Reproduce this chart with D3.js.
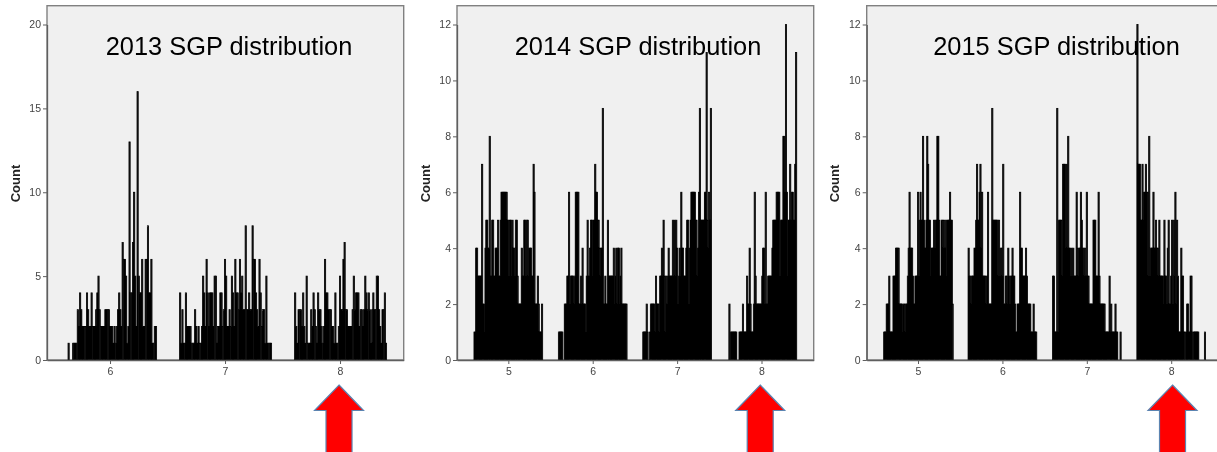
<!DOCTYPE html>
<html>
<head>
<meta charset="utf-8">
<script src="https://cdn.jsdelivr.net/npm/d3@7"></script>
<style>
  body { margin: 0; background: #fff; }
  svg { display: block; font-family: "Liberation Sans", Arial, sans-serif; }
</style>
</head>
<body>
<svg id="root" width="1217" height="452"></svg>
<script>
// counts per 0.01 SGP bin, first bin sits at category - 0.40
const y2013_6 = [0,0,0,0,1,0,0,0,1,1,1,1,3,2,4,3,2,2,2,2,4,3,2,2,4,2,2,2,3,4,5,3,2,2,2,2,3,3,3,3,2,2,2,1,2,1,2,3,4,3,2,7,6,6,5,1,2,13,4,4,7,10,5,2,16,5,4,4,6,2,2,6,6,8,4,4,6,1,1,2,2]
const y2013_7 = [0,4,1,3,1,1,4,2,2,2,2,1,1,1,3,2,1,2,1,1,2,5,4,2,6,4,2,4,4,4,2,5,5,1,2,2,4,4,2,3,6,5,2,2,3,2,5,4,2,6,4,4,3,6,4,5,3,3,8,3,3,4,3,3,8,6,6,4,3,2,6,4,2,3,3,1,5,1,1,1,1]
const y2013_8 = [0,4,2,1,3,3,3,2,4,2,1,5,1,1,1,3,2,4,3,2,1,4,3,3,2,1,2,6,4,4,3,3,3,2,2,1,4,1,1,2,5,3,3,6,7,3,3,2,2,2,2,3,5,3,4,4,4,2,3,3,2,3,5,4,3,4,3,1,3,4,3,3,5,5,3,2,1,3,3,4,1]

const y2014_5 = [1,1,4,4,3,3,3,3,3,7,2,2,1,4,5,5,4,4,8,3,3,5,5,3,3,4,4,4,5,3,3,5,6,6,6,6,6,6,6,5,5,3,5,5,3,5,4,4,3,5,5,3,2,2,2,2,4,3,3,5,5,3,5,5,3,4,4,4,3,3,7,6,2,2,2,3,2,1,1,1,2]
const y2014_6 = [1,1,1,1,1,0,0,2,2,2,3,3,6,2,3,3,3,3,2,3,6,6,6,6,2,2,3,2,4,2,2,2,1,3,5,3,3,4,5,5,3,5,5,7,6,6,5,5,4,3,4,4,9,2,2,3,2,2,5,3,3,3,3,3,3,4,2,3,4,2,4,4,2,3,4,2,2,2,2,2,2]
const y2014_7 = [1,1,1,1,2,1,0,0,1,2,2,2,2,2,1,3,2,2,2,1,3,3,4,3,5,3,1,3,2,3,4,3,3,3,3,5,3,5,3,5,4,2,3,4,3,6,4,4,3,3,3,4,5,5,2,4,5,6,6,6,6,6,5,5,3,4,6,9,5,5,5,5,5,6,6,11,5,4,6,5,9]
const y2014_8 = [0,0,2,0,1,1,1,1,1,1,1,0,0,0,1,1,1,1,2,1,1,1,1,3,2,2,4,2,1,1,1,2,6,3,2,2,2,2,2,2,2,3,4,4,2,6,2,2,3,3,3,3,3,4,5,5,5,5,6,6,6,6,3,5,5,5,8,8,6,12,6,3,5,5,7,5,6,6,5,5,7,11]

const y2015_5 = [1,1,1,2,2,2,3,1,1,1,1,3,3,3,4,4,4,4,2,2,2,2,1,2,2,1,2,2,3,4,6,4,4,4,3,2,2,3,3,3,6,3,5,6,5,5,8,5,4,4,5,8,7,5,5,3,4,4,4,5,4,5,5,8,8,5,3,3,5,5,4,5,4,5,3,5,5,5,6,5,5,2]
const y2015_6 = [4,3,3,2,3,3,3,4,4,5,7,5,5,6,7,4,6,3,3,3,3,2,3,6,2,2,2,2,9,5,5,5,5,5,5,3,5,3,4,4,3,7,2,2,3,3,2,4,3,2,3,3,4,3,3,2,1,1,2,2,2,6,4,4,3,3,3,3,4,3,2,2,2,2,1,1,1,2,1,1,1]
const y2015_7 = [3,3,1,1,1,9,1,5,5,5,5,3,7,7,7,4,7,4,8,4,4,3,4,3,4,3,3,3,6,4,3,4,4,6,5,4,4,3,4,3,6,3,3,2,2,2,2,2,5,5,5,3,3,3,6,3,2,2,2,2,2,2,1,1,1,1,1,3,1,2,1,1,1,1,2,1,1,0,0,0,1]
const y2015_8 = [12,7,7,7,5,5,7,5,6,6,7,6,6,3,8,3,4,4,4,6,4,4,5,4,4,3,5,3,3,3,3,2,5,3,3,2,4,5,2,2,3,5,2,5,3,6,2,5,3,1,1,1,4,3,3,1,1,0,1,2,2,1,1,3,3,1,0,1,1,1,1,1,1,0,0,0,0,0,0,0,1]

const panels = [
  { title: "2013 SGP distribution", groups: [[6, y2013_6], [7, y2013_7], [8, y2013_8]], left: 47, right: 403.7, xMin: 5.452, px: 115, yMax: 20, yStep: 5, titleX: 229, arrowDx: -1 },
  { title: "2014 SGP distribution", groups: [[5, y2014_5], [6, y2014_6], [7, y2014_7], [8, y2014_8]], left: 457, right: 813.7, xMin: 4.392, px: 84.4, yMax: 12, yStep: 2, titleX: 638, arrowDx: -1.3 },
  { title: "2015 SGP distribution", groups: [[5, y2015_5], [6, y2015_6], [7, y2015_7], [8, y2015_8]], left: 866.7, right: 1225, xMin: 4.392, px: 84.4, yMax: 12, yStep: 2, titleX: 1056.5, arrowDx: 1.3 }
]

const plotTop = 5.7, base = 360, topTick = 24.5;
const svg = d3.select("#root");

// the source is a soft, upscaled screenshot
svg.append("defs").append("filter")
  .attr("id", "soft")
  .attr("x", "-2%").attr("y", "-2%").attr("width", "104%").attr("height", "104%")
  .append("feGaussianBlur")
  .attr("stdDeviation", 0.4);

const drawPanel = (p) => {
  const g = svg.append("g").attr("filter", "url(#soft)");
  const x = d3.scaleLinear()
    .domain([p.xMin, p.xMin + (p.right - p.left) / p.px])
    .range([p.left, p.right]);
  const y = d3.scaleLinear().domain([0, p.yMax]).range([base, topTick]);

  // plot area
  g.append("rect")
    .attr("x", p.left).attr("y", plotTop)
    .attr("width", p.right - p.left).attr("height", base - plotTop)
    .attr("fill", "#f0f0f0")
    .attr("stroke", "#808080").attr("stroke-width", 1.4);

  // bars
  const bins = p.groups.flatMap(([cat, vals]) =>
    vals.map((v, i) => ({ pos: cat - 0.4 + i * 0.01, v })).filter(d => d.v > 0));
  g.append("g").selectAll("rect")
    .data(bins)
    .enter()
    .append("rect")
    .attr("x", d => x(d.pos) - 0.6)
    .attr("y", d => y(d.v))
    .attr("width", 1.2)
    .attr("height", d => base - y(d.v))
    .attr("fill", "#111")
    .attr("stroke", "#000")
    .attr("stroke-width", 0.8);

  // axes
  const yTicks = d3.range(0, p.yMax + 1, p.yStep);
  const yAxis = g.append("g")
    .attr("transform", `translate(${p.left},0)`)
    .call(d3.axisLeft(y).tickValues(yTicks).tickSize(4).tickSizeOuter(0).tickPadding(2).tickFormat(d3.format("d")));
  const xAxis = g.append("g")
    .attr("transform", `translate(0,${base})`)
    .call(d3.axisBottom(x).tickValues(p.groups.map(d => d[0])).tickSize(4).tickSizeOuter(0).tickPadding(3.5).tickFormat(d3.format("d")));
  [yAxis, xAxis].forEach(a => {
    a.select(".domain").attr("stroke", "#5f5f5f").attr("stroke-width", 1.3);
    a.selectAll("line").attr("stroke", "#5f5f5f");
    a.selectAll("text").attr("fill", "#444").attr("font-size", 10.5)
      .attr("font-family", '"Liberation Sans", Arial, sans-serif');
  });

  g.append("text")
    .attr("transform", `translate(${p.left - 27.5},183.5) rotate(-90)`)
    .attr("text-anchor", "middle")
    .attr("font-size", 13).attr("font-weight", "bold").attr("fill", "#222")
    .text("Count");

  // title sits on top of the bars
  g.append("text")
    .attr("x", p.titleX).attr("y", 54.5)
    .attr("text-anchor", "middle")
    .attr("font-size", 25.4).attr("fill", "#000")
    .text(p.title);

  // red arrow under category 8
  const tip = x(8) + p.arrowDx;
  const arrow = d3.path();
  arrow.moveTo(tip, 385);
  arrow.lineTo(tip + 24.5, 410.5);
  arrow.lineTo(tip + 13, 410.5);
  arrow.lineTo(tip + 13, 453);
  arrow.lineTo(tip - 13, 453);
  arrow.lineTo(tip - 13, 410.5);
  arrow.lineTo(tip - 24.5, 410.5);
  arrow.closePath();
  g.append("path")
    .attr("d", arrow.toString())
    .attr("fill", "#ff0000")
    .attr("stroke", "#5b84b1").attr("stroke-width", 1.2);
}

panels.forEach(drawPanel);
</script>
</body>
</html>
